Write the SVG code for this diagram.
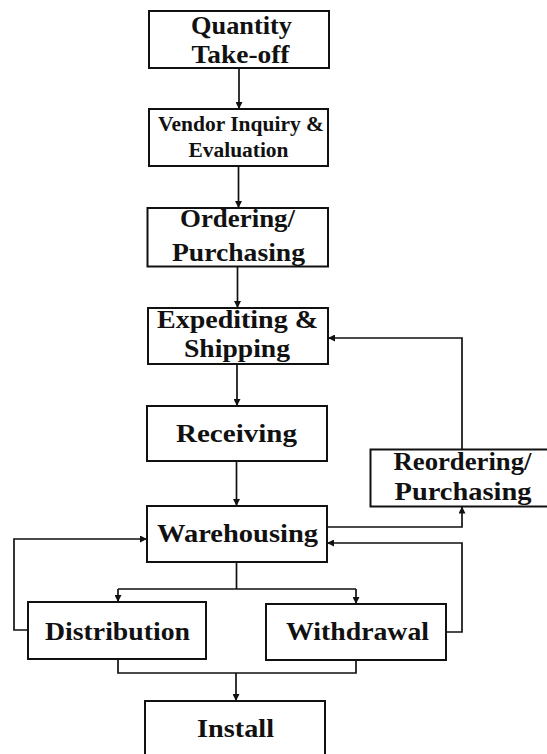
<svg xmlns="http://www.w3.org/2000/svg" width="547" height="754" viewBox="0 0 547 754">
  <style>
    .box { fill: #ffffff; stroke: #111111; stroke-width: 2; }
    .lbl { font-family: "Liberation Serif", "Times New Roman", serif; font-weight: bold; fill: #111111; text-anchor: middle; }
    .big { font-size: 26px; }
    .small { font-size: 20px; }
    .wire { fill: none; stroke: #111111; stroke-width: 1.7; }
  </style>
  <defs>
    <marker id="arrow" viewBox="0 0 10 10" refX="10" refY="5" markerWidth="9" markerHeight="7" markerUnits="userSpaceOnUse" orient="auto">
      <path d="M0,0 L10,5 L0,10 Z" fill="#111111"/>
    </marker>
  </defs>

  <rect width="547" height="754" fill="#ffffff"/>

  <!-- connectors -->
  <g id="connectors">
    <path class="wire" d="M239,68 V109" marker-end="url(#arrow)"/>
    <path class="wire" d="M238.5,166 V208" marker-end="url(#arrow)"/>
    <path class="wire" d="M237.5,266.5 V308" marker-end="url(#arrow)"/>
    <path class="wire" d="M237,364 V406" marker-end="url(#arrow)"/>
    <path class="wire" d="M236.5,461 V506" marker-end="url(#arrow)"/>
    <!-- reordering back to expediting -->
    <path class="wire" d="M462,449.5 V338 H328" marker-end="url(#arrow)"/>
    <!-- warehousing to reordering -->
    <path class="wire" d="M327,527 H462 V506.5" marker-end="url(#arrow)"/>
    <!-- withdrawal back to warehousing -->
    <path class="wire" d="M446,632 H462 V543 H327" marker-end="url(#arrow)"/>
    <!-- distribution back to warehousing -->
    <path class="wire" d="M28,630 H14 V539 H147" marker-end="url(#arrow)"/>
    <!-- warehousing split -->
    <path class="wire" d="M236.5,562 V589 M118,589 H356"/>
    <path class="wire" d="M118,589 V602" marker-end="url(#arrow)"/>
    <path class="wire" d="M356,589 V604" marker-end="url(#arrow)"/>
    <!-- merge to install -->
    <path class="wire" d="M118,659 V673 H356 V660"/>
    <path class="wire" d="M236,673 V701" marker-end="url(#arrow)"/>
  </g>

  <g id="quantity-takeoff">
    <rect class="box" x="149" y="11" width="180" height="57"/>
    <text class="lbl big" x="241.5" y="34" textLength="101" lengthAdjust="spacingAndGlyphs">Quantity</text>
    <text class="lbl big" x="240.5" y="63" textLength="98" lengthAdjust="spacingAndGlyphs">Take-off</text>
  </g>

  <g id="vendor-inquiry">
    <rect class="box" x="149" y="109" width="179" height="57"/>
    <text class="lbl small" x="241" y="131" textLength="166" lengthAdjust="spacingAndGlyphs">Vendor Inquiry &amp;</text>
    <text class="lbl small" x="238.5" y="157" textLength="100" lengthAdjust="spacingAndGlyphs">Evaluation</text>
  </g>

  <g id="ordering">
    <rect class="box" x="147.5" y="208" width="180.5" height="58.5"/>
    <text class="lbl big" x="237.5" y="227" textLength="115" lengthAdjust="spacingAndGlyphs">Ordering/</text>
    <text class="lbl big" x="238.5" y="261" textLength="133" lengthAdjust="spacingAndGlyphs">Purchasing</text>
  </g>

  <g id="expediting">
    <rect class="box" x="148" y="308" width="180" height="56"/>
    <text class="lbl big" x="237.5" y="328" textLength="161" lengthAdjust="spacingAndGlyphs">Expediting &amp;</text>
    <text class="lbl big" x="237" y="357" textLength="106" lengthAdjust="spacingAndGlyphs">Shipping</text>
  </g>

  <g id="receiving">
    <rect class="box" x="147" y="406" width="180" height="55"/>
    <text class="lbl big" x="236.5" y="442" textLength="121" lengthAdjust="spacingAndGlyphs">Receiving</text>
  </g>

  <g id="warehousing">
    <rect class="box" x="147" y="506" width="180" height="56"/>
    <text class="lbl big" x="237.5" y="542" textLength="161" lengthAdjust="spacingAndGlyphs">Warehousing</text>
  </g>

  <g id="reordering">
    <rect class="box" x="370.5" y="449.5" width="200" height="57"/>
    <text class="lbl big" x="462.5" y="470" textLength="138" lengthAdjust="spacingAndGlyphs">Reordering/</text>
    <text class="lbl big" x="463" y="500" textLength="137" lengthAdjust="spacingAndGlyphs">Purchasing</text>
  </g>

  <g id="distribution">
    <rect class="box" x="28" y="602" width="178" height="57"/>
    <text class="lbl big" x="117.5" y="640" textLength="145" lengthAdjust="spacingAndGlyphs">Distribution</text>
  </g>

  <g id="withdrawal">
    <rect class="box" x="266" y="604" width="180" height="56"/>
    <text class="lbl big" x="357.5" y="640" textLength="143" lengthAdjust="spacingAndGlyphs">Withdrawal</text>
  </g>

  <g id="install">
    <rect class="box" x="145" y="701" width="180" height="60"/>
    <text class="lbl big" x="235.5" y="737" textLength="77" lengthAdjust="spacingAndGlyphs">Install</text>
  </g>
</svg>
